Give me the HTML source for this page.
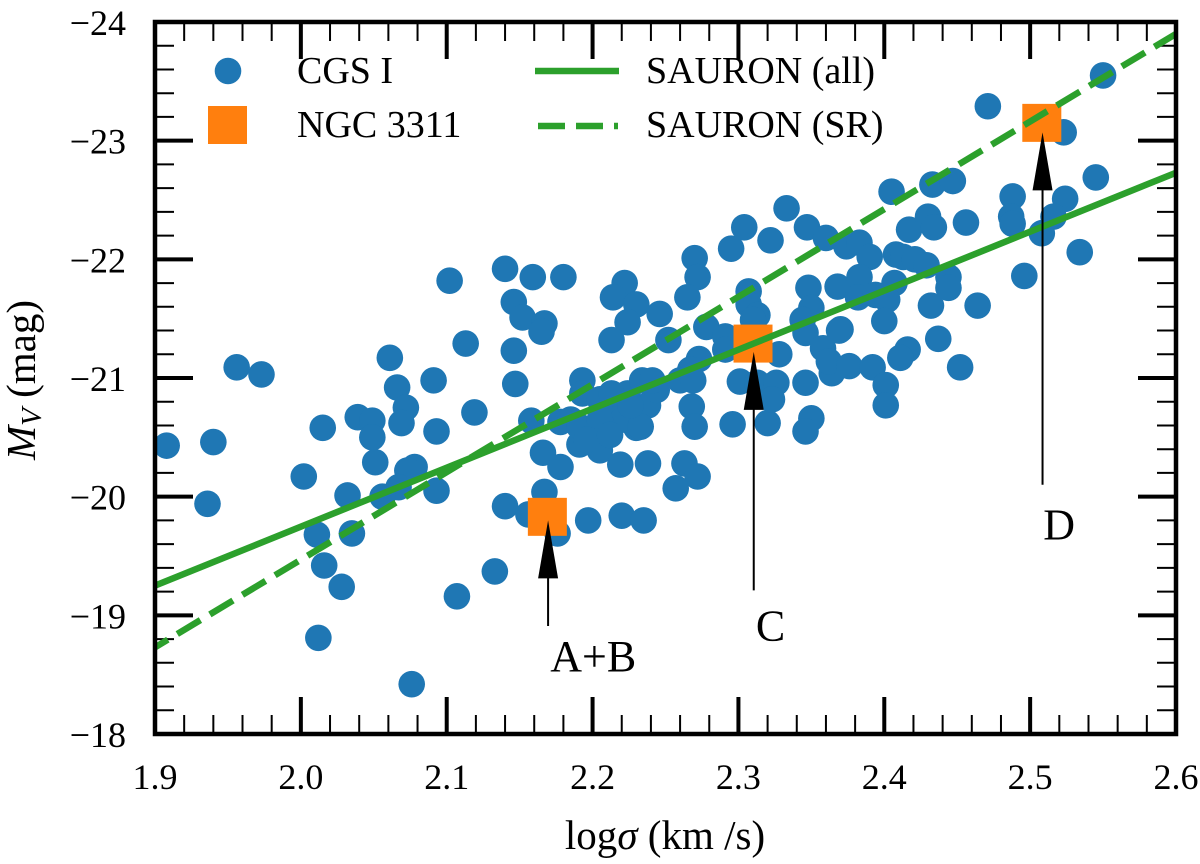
<!DOCTYPE html>
<html>
<head>
<meta charset="utf-8">
<title>Mv vs log sigma</title>
<style>
html,body{margin:0;padding:0;background:#fff;}
svg{display:block;}
text{font-family:"Liberation Serif",serif;fill:#000;}
</style>
</head>
<body>
<svg id="chart" xmlns="http://www.w3.org/2000/svg" width="1200" height="864" viewBox="0 0 1200 864">
  <defs><clipPath id="plot-clip"><rect x="155" y="22" width="1021" height="712"/></clipPath></defs>
  <g id="ticks"></g>
  <g id="tick-labels"></g>
  <g id="points" clip-path="url(#plot-clip)"></g>
  <g id="ngc"></g>
  <g id="fits" clip-path="url(#plot-clip)"></g>
  <g id="arrows"></g>
  <rect x="155" y="22" width="1021" height="712" fill="none" stroke="#000" stroke-width="4.5"/>
  <g>
    <circle cx="228" cy="71" r="13.3" fill="#1f77b4"/>
    <text x="297" y="83" font-size="38">CGS I</text>
    <rect x="208" y="106" width="39" height="38" fill="#ff7f0e"/>
    <text x="297" y="137" font-size="38">NGC 3311</text>
    <line x1="535" y1="71" x2="619" y2="71" stroke="#2ca02c" stroke-width="6.5"/>
    <text x="646" y="83" font-size="38">SAURON (all)</text>
    <line x1="538" y1="126" x2="618" y2="126" stroke="#2ca02c" stroke-width="6.5" stroke-dasharray="27 11"/>
    <text x="646" y="137" font-size="38">SAURON (SR)</text>
  </g>
  <text x="665" y="849" font-size="41" text-anchor="middle">log<tspan font-style="italic">σ</tspan> (km /s)</text>
  <text transform="translate(35,380) rotate(-90)" font-size="41" text-anchor="middle"><tspan font-style="italic">M</tspan><tspan font-style="italic" font-size="29" dy="6">V</tspan><tspan dy="-6"> (mag)</tspan></text>
</svg>
<script>
const cgsLogSigma = [1.956,1.973,2.061,2.066,2.091,2.072,2.069,2.015,2.039,2.049,2.049,2.093,1.908,1.940,2.051,2.078,2.073,2.067,2.056,2.002,2.032,2.093,1.936,2.011,2.035,2.016,2.028,2.012,2.076,2.107,2.133,2.102,2.140,2.159,2.180,2.146,2.152,2.167,2.165,2.113,2.146,2.147,2.119,2.193,2.158,2.178,2.185,2.166,2.178,2.191,2.205,2.219,2.238,2.263,2.272,2.257,2.140,2.156,2.167,2.176,2.197,2.220,2.235,2.193,2.205,2.214,2.230,2.238,2.244,2.224,2.191,2.203,2.221,2.234,2.241,2.222,2.214,2.230,2.224,2.213,2.246,2.252,2.270,2.272,2.265,2.278,2.295,2.322,2.304,2.333,2.307,2.307,2.313,2.310,2.291,2.291,2.328,2.273,2.267,2.260,2.269,2.268,2.270,2.296,2.320,2.301,2.313,2.326,2.323,2.346,2.350,2.346,2.348,2.350,2.344,2.346,2.368,2.370,2.358,2.364,2.362,2.347,2.360,2.374,2.383,2.390,2.405,2.433,2.447,2.417,2.430,2.434,2.456,2.408,2.413,2.421,2.429,2.407,2.383,2.444,2.444,2.432,2.464,2.382,2.394,2.402,2.400,2.369,2.437,2.416,2.411,2.376,2.392,2.401,2.401,2.452,2.471,2.550,2.523,2.545,2.488,2.524,2.487,2.488,2.516,2.508,2.534,2.496,2.233,2.213,2.205,2.226,2.196,2.212];
const cgsMagV = [-21.09,-21.03,-21.17,-20.92,-20.98,-20.75,-20.62,-20.58,-20.67,-20.64,-20.50,-20.55,-20.43,-20.46,-20.29,-20.25,-20.22,-20.08,-20.00,-20.17,-20.01,-20.05,-19.94,-19.68,-19.69,-19.42,-19.24,-18.81,-18.42,-19.16,-19.37,-21.82,-21.92,-21.85,-21.85,-21.64,-21.51,-21.46,-21.39,-21.29,-21.23,-20.95,-20.71,-20.98,-20.64,-20.63,-20.65,-20.37,-20.25,-20.44,-20.39,-20.27,-20.28,-20.28,-20.17,-20.07,-19.92,-19.85,-20.04,-19.69,-19.80,-19.84,-19.80,-20.87,-20.82,-20.67,-20.58,-20.77,-20.90,-20.87,-20.59,-20.56,-20.65,-20.98,-20.98,-21.80,-21.68,-21.62,-21.47,-21.32,-21.54,-21.32,-22.01,-21.85,-21.68,-21.43,-22.09,-22.16,-22.27,-22.43,-21.73,-21.62,-21.53,-21.49,-21.35,-21.24,-21.20,-21.16,-21.07,-20.98,-20.98,-20.76,-20.59,-20.61,-20.62,-20.97,-20.96,-20.96,-20.82,-20.96,-20.66,-20.55,-21.76,-21.59,-21.49,-21.38,-21.77,-21.41,-21.25,-21.04,-21.14,-22.27,-22.18,-22.11,-22.14,-22.02,-22.57,-22.63,-22.66,-22.25,-22.36,-22.27,-22.31,-22.04,-22.02,-22.00,-21.95,-21.80,-21.85,-21.85,-21.76,-21.61,-21.61,-21.68,-21.70,-21.66,-21.48,-21.40,-21.33,-21.24,-21.17,-21.10,-21.09,-20.94,-20.77,-21.09,-23.29,-23.55,-23.07,-22.69,-22.53,-22.51,-22.36,-22.30,-22.36,-22.22,-22.06,-21.86,-20.59,-20.87,-20.65,-20.77,-20.48,-20.52];
const ngcLogSigma = [2.169,2.310,2.508];
const ngcMagV = [-19.83,-21.29,-23.15];
const fitLogSigma = [1.9,2.6];
const fitAllMagV = [-19.25,-22.73];
const fitSrMagV = [-18.73,-23.9];
const arrowLogSigma = [2.1695,2.3105,2.5085];
const arrowTipMagV = [-19.80,-21.22,-23.07];
const arrowTailMagV = [-18.91,-19.21,-20.10];
const noteLabels = ['A+B','C','D'];
const noteLogSigma = [2.171,2.312,2.509];
const noteMagV = [-18.53,-18.79,-19.64];
const xTickValues = [1.9,2.0,2.1,2.2,2.3,2.4,2.5,2.6];
const xTickLabels = ['1.9','2.0','2.1','2.2','2.3','2.4','2.5','2.6'];
const yTickValues = [-24,-23,-22,-21,-20,-19,-18];
const yTickLabels = ['\u221224','\u221223','\u221222','\u221221','\u221220','\u221219','\u221218'];

const SVGNS = 'http://www.w3.org/2000/svg';
const xScale = v => 155 + (v - 1.9) / 0.7 * 1021;
const yScale = v => 734 - (-18 - v) / 6 * 712;
function mk(tag, parent, props) {
  const el = document.createElementNS(SVGNS, tag);
  for (const k in props) el.setAttribute(k, props[k]);
  parent.appendChild(el);
  return el;
}
const ticksG = document.getElementById('ticks');
const labelsG = document.getElementById('tick-labels');
function tickPair(value, len, width, isX) {
  const p = isX ? xScale(value) : yScale(value);
  const a = isX
    ? {x1:p,x2:p,y1:734,y2:734-len}
    : {x1:155,x2:155+len,y1:p,y2:p};
  const b = isX
    ? {x1:p,x2:p,y1:22,y2:22+len}
    : {x1:1176,x2:1176-len,y1:p,y2:p};
  [a,b].forEach(c => {
    const t = mk('line', ticksG, {x1:c.x1,x2:c.x2,y1:c.y1,y2:c.y2,stroke:'#000','stroke-width':width});
    
    
  });
}
for (let i = 0; i < 36; i++) {
  const v = 1.9 + i * 0.02;
  if (i % 5 !== 0) tickPair(v, 19, 2, true);
}
for (let i = 0; i < 31; i++) {
  const v = -24 + i * 0.2;
  if (i % 5 !== 0) tickPair(v, 19, 2, false);
}
xTickValues.forEach((v, i) => {
  tickPair(v, 37, 4, true);
  const t = mk('text', labelsG, {x:xScale(v),y:789,'font-size':36,'text-anchor':'middle'});
  t.textContent = xTickLabels[i];
  
  
});
yTickValues.forEach((v, i) => {
  tickPair(v, 38, 4, false);
  const t = mk('text', labelsG, {x:126,y:yScale(v)+13,'font-size':36,'text-anchor':'end'});
  t.textContent = yTickLabels[i];
  
  
});
const pointsG = document.getElementById('points');
cgsLogSigma.forEach((x, i) => {
  const c = mk('circle', pointsG, {cx:xScale(x),cy:yScale(cgsMagV[i]),r:13.3,fill:'#1f77b4'});
  
  
});
const ngcG = document.getElementById('ngc');
ngcLogSigma.forEach((x, i) => {
  const r = mk('rect', ngcG, {x:xScale(x)-19.5,y:yScale(ngcMagV[i])-19,width:39,height:38,fill:'#ff7f0e'});
  
  
});
const fitsG = document.getElementById('fits');
const allLine = mk('line', fitsG, {x1:xScale(fitLogSigma[0]),y1:yScale(fitAllMagV[0]),x2:xScale(fitLogSigma[1]),y2:yScale(fitAllMagV[1]),stroke:'#2ca02c','stroke-width':6.5});


const srLine = mk('line', fitsG, {x1:xScale(fitLogSigma[0]),y1:yScale(fitSrMagV[0]),x2:xScale(fitLogSigma[1]),y2:yScale(fitSrMagV[1]),stroke:'#2ca02c','stroke-width':6.5,'stroke-dasharray':'27 11','stroke-dashoffset':12});


const arrowsG = document.getElementById('arrows');
arrowLogSigma.forEach((x, i) => {
  const px = xScale(x), tip = yScale(arrowTipMagV[i]), tail = yScale(arrowTailMagV[i]);
  const shaft = mk('line', arrowsG, {x1:px,x2:px,y1:tip+50,y2:tail,stroke:'#000','stroke-width':2});
  
  
  const head = mk('polygon', arrowsG, {points:(px)+','+tip+' '+(px+10)+','+(tip+58)+' '+(px-10)+','+(tip+58),fill:'#000'});
  
  
  const t = mk('text', arrowsG, {x:xScale(noteLogSigma[i]),y:yScale(noteMagV[i]),'font-size':44});
  t.textContent = noteLabels[i];
  
  
});
</script>
</body>
</html>
